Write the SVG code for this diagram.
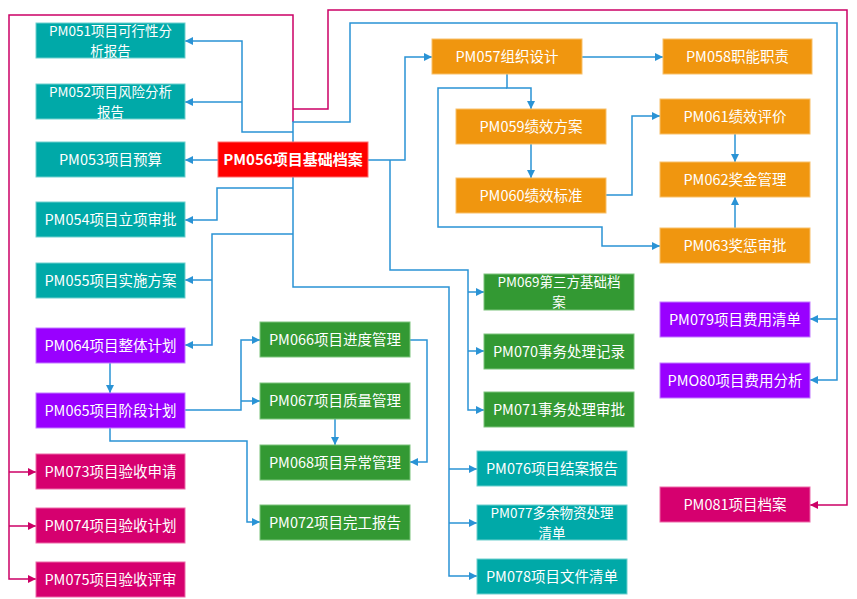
<svg xmlns="http://www.w3.org/2000/svg" width="857" height="599" viewBox="0 0 857 599">
<defs>
<marker id="ab" markerUnits="userSpaceOnUse" markerWidth="9" markerHeight="9" refX="8" refY="4.5" orient="auto"><path d="M0,0.5 L8,4.5 L0,8.5 z" fill="#2A93D5"/></marker>
<marker id="am" markerUnits="userSpaceOnUse" markerWidth="9" markerHeight="9" refX="8" refY="4.5" orient="auto"><path d="M0,0.5 L8,4.5 L0,8.5 z" fill="#CC0066"/></marker>
<style>
rect{stroke-width:1}
.teal{fill:#00A9A8;stroke:#6FD0CE}
.org{fill:#F0960F;stroke:#F8C06A}
.grn{fill:#339933;stroke:#7CC47C}
.pur{fill:#9900FF;stroke:#C27BFF}
.mag{fill:#D6006F;stroke:#EC6AA8}
.red{fill:#FF0000;stroke:#FF6A6A}
text{font-family:"Noto Sans CJK SC","Microsoft YaHei",sans-serif;font-size:14.5px;fill:#fff;text-anchor:middle}
.b{font-weight:bold;font-size:15px}
.w{font-size:13.5px}
.cb{fill:none;stroke:#2A93D5;stroke-width:1.5}
.cm{fill:none;stroke:#CC0066;stroke-width:1.5}
</style>
</defs>
<g id="connectors">
<path class="cm" d="M293,122 V15 H9 V579 H36" marker-end="url(#am)"/>
<path class="cm" d="M9,472 H36" marker-end="url(#am)"/>
<path class="cm" d="M9,526 H36" marker-end="url(#am)"/>
<path class="cm" d="M293,109 H328 V10 H847 V505 H810" marker-end="url(#am)"/>
<path class="cb" d="M293,142 V122 H350 V23 H837 V380 H810" marker-end="url(#ab)"/>
<path class="cb" d="M837,319 H810" marker-end="url(#ab)"/>
<path class="cb" d="M293,132 H242 V41 H185" marker-end="url(#ab)"/>
<path class="cb" d="M242,102 H185" marker-end="url(#ab)"/>
<path class="cb" d="M218,160 H185" marker-end="url(#ab)"/>
<path class="cb" d="M368,160 H405 V57 H432" marker-end="url(#ab)"/>
<path class="cb" d="M293,177 V287 H449 V576 H477" marker-end="url(#ab)"/>
<path class="cb" d="M449,469 H477" marker-end="url(#ab)"/>
<path class="cb" d="M449,523 H477" marker-end="url(#ab)"/>
<path class="cb" d="M293,188 H217 V220 H185" marker-end="url(#ab)"/>
<path class="cb" d="M293,234 H212 V345 H185" marker-end="url(#ab)"/>
<path class="cb" d="M212,280 H185" marker-end="url(#ab)"/>
<path class="cb" d="M390,160 V270 H468 V410 H484" marker-end="url(#ab)"/>
<path class="cb" d="M468,292 H484" marker-end="url(#ab)"/>
<path class="cb" d="M468,351 H484" marker-end="url(#ab)"/>
<path class="cb" d="M582,57 H663" marker-end="url(#ab)"/>
<path class="cb" d="M507,74 V88 H531 V109" marker-end="url(#ab)"/>
<path class="cb" d="M507,88 H438 V227 H602 V246 H660" marker-end="url(#ab)"/>
<path class="cb" d="M531,144 V178" marker-end="url(#ab)"/>
<path class="cb" d="M606,195 H632 V116 H660" marker-end="url(#ab)"/>
<path class="cb" d="M735,134 V162" marker-end="url(#ab)"/>
<path class="cb" d="M735,228 V197" marker-end="url(#ab)"/>
<path class="cb" d="M110,363 V393" marker-end="url(#ab)"/>
<path class="cb" d="M185,410 H241 V340 H260" marker-end="url(#ab)"/>
<path class="cb" d="M241,401 H260" marker-end="url(#ab)"/>
<path class="cb" d="M335,419 V445" marker-end="url(#ab)"/>
<path class="cb" d="M410,340 H427 V462 H410" marker-end="url(#ab)"/>
<path class="cb" d="M110,428 V441 H247 V522 H260" marker-end="url(#ab)"/>
</g>
<g id="PM051"><rect class="teal" x="36" y="23" width="149" height="35"/><text class="w" x="110.5" y="36">PM051项目可行性分</text><text class="w" x="110.5" y="55.5">析报告</text></g>
<g id="PM052"><rect class="teal" x="36" y="84" width="149" height="35"/><text class="w" x="110.5" y="97">PM052项目风险分析</text><text class="w" x="110.5" y="116.5">报告</text></g>
<g id="PM053"><rect class="teal" x="36" y="142" width="149" height="35"/><text x="110.5" y="165">PM053项目预算</text></g>
<g id="PM054"><rect class="teal" x="36" y="202" width="149" height="35"/><text x="110.5" y="225">PM054项目立项审批</text></g>
<g id="PM055"><rect class="teal" x="36" y="263" width="149" height="35"/><text x="110.5" y="286">PM055项目实施方案</text></g>
<g id="PM064"><rect class="pur" x="36" y="328" width="149" height="35"/><text x="110.5" y="351">PM064项目整体计划</text></g>
<g id="PM065"><rect class="pur" x="36" y="393" width="149" height="35"/><text x="110.5" y="416">PM065项目阶段计划</text></g>
<g id="PM073"><rect class="mag" x="36" y="454" width="149" height="35"/><text x="110.5" y="477">PM073项目验收申请</text></g>
<g id="PM074"><rect class="mag" x="36" y="508" width="149" height="35"/><text x="110.5" y="531">PM074项目验收计划</text></g>
<g id="PM075"><rect class="mag" x="36" y="562" width="149" height="35"/><text x="110.5" y="585">PM075项目验收评审</text></g>
<g id="PM056"><rect class="red" x="218" y="142" width="150" height="35"/><text class="b" x="293" y="165">PM056项目基础档案</text></g>
<g id="PM066"><rect class="grn" x="260" y="322" width="150" height="35"/><text x="335" y="345">PM066项目进度管理</text></g>
<g id="PM067"><rect class="grn" x="260" y="383" width="150" height="36"/><text x="335" y="406">PM067项目质量管理</text></g>
<g id="PM068"><rect class="grn" x="260" y="445" width="150" height="35"/><text x="335" y="468">PM068项目异常管理</text></g>
<g id="PM072"><rect class="grn" x="260" y="505" width="150" height="35"/><text x="335" y="528">PM072项目完工报告</text></g>
<g id="PM057"><rect class="org" x="432" y="39" width="150" height="35"/><text x="507" y="62">PM057组织设计</text></g>
<g id="PM058"><rect class="org" x="663" y="39" width="149" height="35"/><text x="737.5" y="62">PM058职能职责</text></g>
<g id="PM059"><rect class="org" x="456" y="109" width="150" height="35"/><text x="531" y="132">PM059绩效方案</text></g>
<g id="PM060"><rect class="org" x="456" y="178" width="150" height="35"/><text x="531" y="201">PM060绩效标准</text></g>
<g id="PM061"><rect class="org" x="660" y="99" width="150" height="35"/><text x="735" y="122">PM061绩效评价</text></g>
<g id="PM062"><rect class="org" x="660" y="162" width="150" height="35"/><text x="735" y="185">PM062奖金管理</text></g>
<g id="PM063"><rect class="org" x="660" y="228" width="150" height="35"/><text x="735" y="251">PM063奖惩审批</text></g>
<g id="PM069"><rect class="grn" x="484" y="274" width="150" height="36"/><text class="w" x="559" y="287">PM069第三方基础档</text><text class="w" x="559" y="307">案</text></g>
<g id="PM070"><rect class="grn" x="484" y="334" width="150" height="35"/><text x="559" y="357">PM070事务处理记录</text></g>
<g id="PM071"><rect class="grn" x="484" y="392" width="150" height="35"/><text x="559" y="415">PM071事务处理审批</text></g>
<g id="PM076"><rect class="teal" x="477" y="451" width="150" height="35"/><text x="552" y="474">PM076项目结案报告</text></g>
<g id="PM077"><rect class="teal" x="477" y="505" width="150" height="35"/><text class="w" x="552" y="518">PM077多余物资处理</text><text class="w" x="552" y="537.5">清单</text></g>
<g id="PM078"><rect class="teal" x="477" y="559" width="150" height="35"/><text x="552" y="582">PM078项目文件清单</text></g>
<g id="PM079"><rect class="pur" x="660" y="302" width="150" height="35"/><text x="735" y="325">PM079项目费用清单</text></g>
<g id="PM080"><rect class="pur" x="660" y="363" width="150" height="35"/><text x="735" y="386">PMO80项目费用分析</text></g>
<g id="PM081"><rect class="mag" x="660" y="487" width="150" height="35"/><text x="735" y="510">PM081项目档案</text></g>
</svg>
